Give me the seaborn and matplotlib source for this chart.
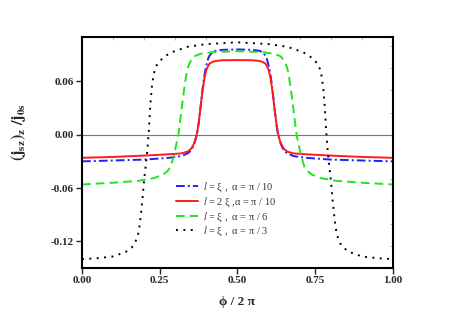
import numpy as np
import pandas as pd
import matplotlib
matplotlib.use("Agg")
import matplotlib.pyplot as plt
from matplotlib.ticker import MultipleLocator, FormatStrFormatter
import seaborn as sns

# l = xi, alpha = pi/10 (dash-dot blue)
x_a10 = [0.00, 0.10, 0.20, 0.28, 0.32, 0.34, 0.35, 0.355, 0.36, 0.365, 0.37, 0.375, 0.38, 0.385, 0.39, 0.395, 0.40, 0.405, 0.41, 0.42, 0.43, 0.45, 0.50,
         0.55, 0.57, 0.58, 0.59, 0.595, 0.60, 0.605, 0.61, 0.615, 0.62, 0.625, 0.63, 0.635, 0.64, 0.645, 0.65, 0.66, 0.68, 0.72, 0.80, 0.90, 1.00]
y_a10 = [-0.030, -0.029, -0.028, -0.026, -0.024, -0.021, -0.018, -0.015, -0.011, -0.006, 0.001, 0.012, 0.027, 0.043, 0.058, 0.070, 0.078, 0.085, 0.089, 0.093, 0.0945, 0.0955, 0.096,
         0.0955, 0.0945, 0.093, 0.089, 0.085, 0.078, 0.070, 0.058, 0.043, 0.027, 0.012, 0.001, -0.006, -0.011, -0.015, -0.018, -0.021, -0.024, -0.026, -0.028, -0.029, -0.030]

# l = 2 xi, alpha = pi/10 (solid red)
x_b10 = [0.00, 0.10, 0.20, 0.28, 0.32, 0.34, 0.35, 0.355, 0.36, 0.365, 0.37, 0.375, 0.38, 0.385, 0.39, 0.395, 0.40, 0.405, 0.41, 0.42, 0.43, 0.45, 0.50,
         0.55, 0.57, 0.58, 0.59, 0.595, 0.60, 0.605, 0.61, 0.615, 0.62, 0.625, 0.63, 0.635, 0.64, 0.645, 0.65, 0.66, 0.68, 0.72, 0.80, 0.90, 1.00]
y_b10 = [-0.026, -0.025, -0.0235, -0.022, -0.021, -0.019, -0.016, -0.0135, -0.010, -0.005, 0.002, 0.013, 0.027, 0.042, 0.055, 0.066, 0.073, 0.077, 0.080, 0.082, 0.083, 0.0838, 0.084,
         0.0838, 0.083, 0.082, 0.080, 0.077, 0.073, 0.066, 0.055, 0.042, 0.027, 0.013, 0.002, -0.005, -0.010, -0.0135, -0.016, -0.019, -0.021, -0.022, -0.0235, -0.025, -0.026]

# l = xi, alpha = pi/6 (dashed green)
x_a6 = [0.00, 0.10, 0.18, 0.23, 0.26, 0.275, 0.285, 0.29, 0.295, 0.30, 0.305, 0.31, 0.315, 0.32, 0.325, 0.33, 0.335, 0.34, 0.345, 0.35, 0.36, 0.38, 0.42, 0.50,
        0.58, 0.62, 0.64, 0.65, 0.655, 0.66, 0.665, 0.67, 0.675, 0.68, 0.685, 0.69, 0.695, 0.70, 0.705, 0.71, 0.715, 0.725, 0.74, 0.77, 0.82, 0.90, 1.00]
y_a6 = [-0.056, -0.054, -0.052, -0.049, -0.045, -0.041, -0.036, -0.030, -0.024, -0.016, -0.008, 0.000, 0.014, 0.028, 0.042, 0.055, 0.066, 0.075, 0.080, 0.083, 0.088, 0.091, 0.093, 0.094,
        0.093, 0.091, 0.088, 0.083, 0.080, 0.075, 0.066, 0.055, 0.042, 0.028, 0.014, 0.000, -0.008, -0.016, -0.024, -0.030, -0.036, -0.041, -0.045, -0.049, -0.052, -0.054, -0.056]

# l = xi, alpha = pi/3 (dotted black)
x_a3 = [0.00, 0.05, 0.10, 0.14, 0.16, 0.17, 0.18, 0.185, 0.19, 0.195, 0.20, 0.205, 0.21, 0.215, 0.22, 0.225, 0.23, 0.235, 0.24, 0.25, 0.27, 0.29, 0.34, 0.40, 0.50,
        0.60, 0.66, 0.71, 0.73, 0.75, 0.76, 0.765, 0.77, 0.775, 0.78, 0.785, 0.79, 0.795, 0.80, 0.805, 0.81, 0.815, 0.82, 0.83, 0.84, 0.86, 0.90, 0.95, 1.00]
y_a3 = [-0.140, -0.139, -0.137, -0.132, -0.127, -0.122, -0.113, -0.103, -0.088, -0.070, -0.050, -0.035, -0.018, 0.005, 0.035, 0.055, 0.067, 0.074, 0.078, 0.083, 0.089, 0.093, 0.099, 0.102, 0.104,
        0.102, 0.099, 0.093, 0.089, 0.083, 0.078, 0.074, 0.067, 0.055, 0.035, 0.005, -0.018, -0.035, -0.050, -0.070, -0.088, -0.103, -0.113, -0.122, -0.127, -0.132, -0.137, -0.139, -0.140]

labels = [r"$l$ = ξ ,  α = π / 10", r"$l$ = 2 ξ ,α = π / 10", r"$l$ = ξ ,  α = π / 6", r"$l$ = ξ ,  α = π / 3"]
x_ticks = [0.00, 0.25, 0.50, 0.75, 1.00]
y_ticks = [-0.12, -0.06, 0.00, 0.06]

sns.set_theme(style="ticks")
plt.rcParams["font.family"] = ["Liberation Serif", "DejaVu Serif"]
plt.rcParams["mathtext.fontset"] = "stix"

fig = plt.figure(figsize=(4.57, 3.23), dpi=100)
ax = fig.add_axes([0.1794, 0.1703, 0.6805, 0.7152])

ax.axhline(0, color="#777777", lw=0.8, zorder=1)

series = [
    (x_a10, y_a10, "#1f1fff", (4.5, 1.6, 1, 1.6)),
    (x_b10, y_b10, "#ff1a1a", None),
    (x_a6, y_a6, "#1ee61e", (4.5, 2.6)),
    (x_a3, y_a3, "black", (1, 2.8)),
]
for (xs, ys, col, dash), lab in zip(series, labels):
    df = pd.DataFrame({"x": xs, "y": ys})
    sns.lineplot(data=df, x="x", y="y", ax=ax, color=col, lw=1.4, label=lab)
    if dash is not None:
        ax.lines[-1].set_dashes(dash)

ax.set_xlim(0, 1)
ax.set_ylim(-0.150, 0.110)
ax.set_xticks(x_ticks)
ax.set_yticks(y_ticks)
ax.xaxis.set_major_formatter(FormatStrFormatter("%.2f"))
ax.yaxis.set_major_formatter(FormatStrFormatter("%.2f"))
ax.xaxis.set_minor_locator(MultipleLocator(0.1))
ax.yaxis.set_minor_locator(MultipleLocator(0.025))
ax.tick_params(which="major", direction="out", length=4, width=1, labelsize=8, pad=2)
ax.tick_params(which="minor", direction="in", length=2, width=0.6, color="#aaaaaa",
               bottom=False, left=False, top=True, right=True)
for t in ax.get_xticklabels() + ax.get_yticklabels():
    t.set_fontweight("bold")
for s in ax.spines.values():
    s.set_linewidth(1.5)
    s.set_color("black")

ax.set_xlabel("ϕ / 2 π", fontsize=9.5, fontweight="bold", labelpad=8)
ax.set_ylabel(r"$\mathbf{(j_{sz})_{z}\ /j_{0s}}$", fontsize=11.5)
ax.yaxis.set_label_coords(-0.175, 0.59)

leg = ax.legend(loc="upper left", bbox_to_anchor=(0.385, 0.442), bbox_transform=fig.transFigure,
                frameon=False, fontsize=7.5, handlelength=2.1, handletextpad=0.5,
                labelspacing=0.12, borderpad=0, borderaxespad=0)
for t in leg.get_texts():
    t.set_color("#333333")

fig.savefig("out.png", dpi=100)
